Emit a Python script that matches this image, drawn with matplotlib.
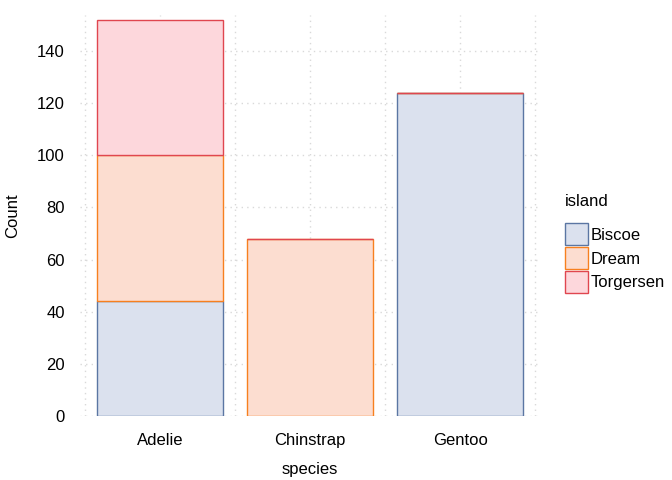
import matplotlib.pyplot as plt
import numpy as np
from matplotlib.patches import Patch

# penguin counts per species and island
species = ['Adelie', 'Chinstrap', 'Gentoo']
islands = ['Biscoe', 'Dream', 'Torgersen']
biscoe = [44, 0, 124]
dream = [56, 68, 0]
torgersen = [52, 0, 0]
counts = [biscoe, dream, torgersen]

fills = ['#dbe1ee', '#fcddd0', '#fdd7dc']
edges = ['#5b76a3', '#f7801f', '#e0464f']

plt.rcParams['font.family'] = ['Liberation Sans', 'DejaVu Sans']

fig = plt.figure(figsize=(6.72, 4.8), dpi=100)
ax = fig.add_axes([0.119, 0.133, 0.685, 0.836])

x = np.arange(1, len(species) + 1)
bottom = np.zeros(len(species))
for vals, fc, ec in zip(counts, fills, edges):
    ax.bar(x, vals, width=0.84, bottom=bottom, color=fc, edgecolor=ec,
           linewidth=1.0, zorder=3)
    bottom += np.array(vals)

ax.set_xlim(0.467, 3.533)
ax.set_ylim(0, 153.8)
ax.set_xticks(x)
ax.set_xticklabels(species)
ax.set_xticks([0.5, 1.5, 2.5, 3.5], minor=True)
ax.set_yticks(range(0, 141, 20))

ax.grid(True, which='major', color='#d9d9d9', linestyle=(0, (1, 3)), linewidth=1.0, zorder=0)
ax.grid(True, which='minor', axis='x', color='#d9d9d9', linestyle=(0, (1, 3)), linewidth=1.0, zorder=0)
ax.tick_params(which='both', length=0, labelsize=12, colors='black')
ax.tick_params(axis='x', pad=12)
ax.tick_params(axis='y', pad=11)
for s in ax.spines.values():
    s.set_visible(False)

ax.set_xlabel('species', fontsize=12, labelpad=10)
ax.set_ylabel('Count', fontsize=12, labelpad=12)

handles = [Patch(facecolor=fc, edgecolor=ec, label=lab) for lab, fc, ec in zip(islands, fills, edges)]
leg = fig.legend(handles=handles, title='island', loc='upper left',
                 bbox_to_anchor=(0.841, 0.595), frameon=False, fontsize=12,
                 title_fontsize=12, handlelength=1.35, handleheight=1.67,
                 handletextpad=0.2, labelspacing=0.1, borderaxespad=0,
                 borderpad=0)
leg._legend_box.align = 'left'
leg._legend_box.sep = 10

fig.savefig('out.png', dpi=100)
